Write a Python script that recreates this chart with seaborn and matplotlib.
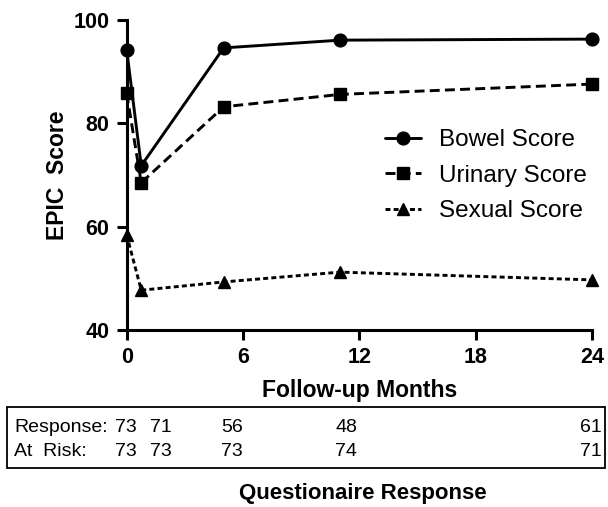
import matplotlib
matplotlib.use("Agg")
import matplotlib.pyplot as plt
import seaborn as sns
import pandas as pd
from matplotlib.patches import Rectangle

# ---- data ----
months = [0, 0.75, 5, 11, 24]
bowel = [94.2, 71.8, 94.6, 96.1, 96.3]
urinary = [85.8, 68.5, 83.2, 85.6, 87.6]
sexual = [58.4, 47.7, 49.3, 51.2, 49.7]
series_names = ["Bowel Score", "Urinary Score", "Sexual Score"]
x_ticks = [0, 6, 12, 18, 24]
y_ticks = [40, 60, 80, 100]
response = ["73", "71", "56", "48", "61"]
at_risk = ["73", "73", "73", "74", "71"]
row_labels = ["Response:", "At  Risk:"]

# ---- style ----
sns.set_style("ticks")
plt.rcParams["font.family"] = ["Liberation Sans", "DejaVu Sans"]
plt.rcParams["text.color"] = "black"
plt.rcParams["axes.labelcolor"] = "black"

W, H = 608, 507
fig = plt.figure(figsize=(W / 100, H / 100), dpi=100)
ax = fig.add_axes([126.7 / W, 1 - 330 / H, (592 - 126.7) / W, (330 - 20) / H])

df = pd.DataFrame({"month": months, "Bowel Score": bowel,
                   "Urinary Score": urinary, "Sexual Score": sexual})

styles = {
    "Bowel Score": dict(marker="o", markersize=9.2, linestyle="-"),
    "Urinary Score": dict(marker="s", markersize=8.4, linestyle=(0, (3.4, 1.8))),
    "Sexual Score": dict(marker="^", markersize=9.2, linestyle=(0, (1.7, 1.1))),
}
for name in series_names:
    sns.lineplot(data=df, x="month", y=name, ax=ax, color="black",
                 linewidth=2.1, label=name, clip_on=False, zorder=5,
                 markeredgecolor="black", markeredgewidth=1, **styles[name])

ax.set_xlim(0, 24)
ax.set_ylim(40, 100)
ax.set_xticks(x_ticks)
ax.set_yticks(y_ticks)
for lab in ax.get_xticklabels() + ax.get_yticklabels():
    lab.set_fontweight("bold")
ax.tick_params(axis="both", labelsize=15.5, width=2.2, length=7.5, pad=5,
               color="black", labelcolor="black")
sns.despine(ax=ax)
for s in ["left", "bottom"]:
    ax.spines[s].set_linewidth(2.2)
    ax.spines[s].set_color("black")

ax.set_ylabel("EPIC  Score", fontsize=16.5, fontweight="bold", labelpad=3)
ax.set_xlabel("Follow-up Months", fontsize=16.5, fontweight="bold", labelpad=8)

leg = ax.legend(loc="upper left", bbox_to_anchor=(385 / W, 1 - 129 / H),
                bbox_transform=fig.transFigure, frameon=False, fontsize=17.5,
                handlelength=1.5, handletextpad=0.72, labelspacing=0.56,
                borderpad=0, borderaxespad=0)

# ---- response table below ----
fig.patches.append(Rectangle((7 / W, 1 - 468 / H), (605 - 7) / W, (468 - 407) / H,
                             transform=fig.transFigure, fill=False,
                             edgecolor="black", linewidth=1.3))
col_right = [137, 171.5, 243, 357, 602]
row_y = [427, 452]
for r, (lab, vals) in enumerate(zip(row_labels, [response, at_risk])):
    fig.text(14 / W, 1 - row_y[r] / H, lab, ha="left", va="center", fontsize=14)
    for xr, v in zip(col_right, vals):
        fig.text(xr / W, 1 - row_y[r] / H, v, ha="right", va="center", fontsize=14)

fig.text(363 / W, 1 - 493 / H, "Questionaire Response", ha="center", va="center",
         fontsize=16, fontweight="bold")

fig.savefig("out.png", dpi=100)
